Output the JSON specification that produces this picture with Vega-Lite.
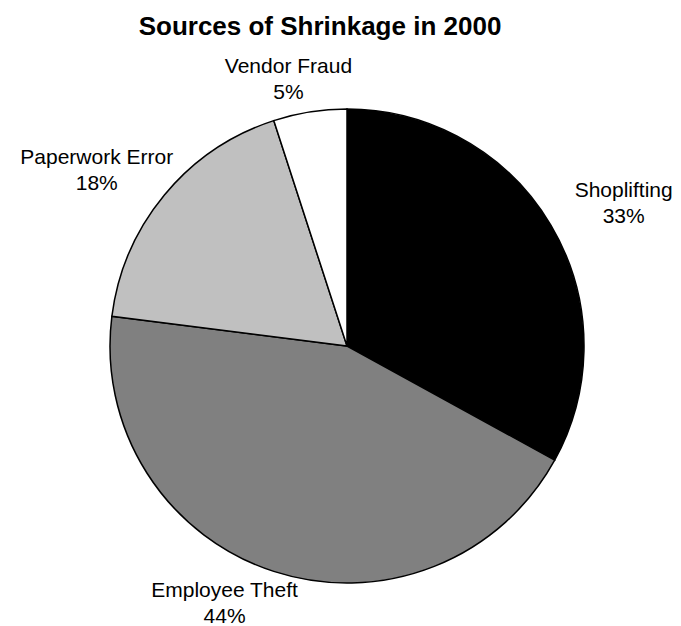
{
  "$schema": "https://vega.github.io/schema/vega-lite/v6.json",
  "width": 668,
  "height": 560,
  "autosize": {"type": "none"},
  "padding": {"left": 13, "top": 66, "right": 0, "bottom": 0},
  "background": "white",
  "view": {"stroke": null},
  "title": {
    "text": "Sources of Shrinkage in 2000",
    "font": "Liberation Sans",
    "fontSize": 26,
    "fontWeight": "bold",
    "color": "#000000",
    "anchor": "middle",
    "baseline": "alphabetic",
    "dx": -27,
    "offset": -30
  },
  "data": {
    "values": [
      {"source": "Shoplifting", "share": 33},
      {"source": "Employee Theft", "share": 44},
      {"source": "Paperwork Error", "share": 18},
      {"source": "Vendor Fraud", "share": 5}
    ]
  },
  "transform": [
    {"window": [{"op": "row_number", "as": "rank"}]},
    {"calculate": "datum.source + '\\n' + datum.share + '%'", "as": "label"}
  ],
  "encoding": {
    "theta": {"field": "share", "type": "quantitative", "stack": true},
    "order": {"field": "rank", "type": "quantitative"}
  },
  "layer": [
    {
      "mark": {"type": "arc", "outerRadius": 237, "stroke": "#000000", "strokeWidth": 1.5},
      "encoding": {
        "color": {
          "field": "source",
          "type": "nominal",
          "scale": {
            "domain": ["Shoplifting", "Employee Theft", "Paperwork Error", "Vendor Fraud"],
            "range": ["#000000", "#808080", "#c0c0c0", "#ffffff"]
          },
          "legend": null
        }
      }
    },
    {
      "mark": {"type": "text", "radius": 311, "dx": 9, "dy": 3, "font": "Liberation Sans", "fontSize": 21, "lineHeight": 26, "lineBreak": "\n", "color": "#000000", "align": "center", "baseline": "middle"},
      "encoding": {"text": {"condition": {"test": "datum.source === 'Shoplifting'", "field": "label", "type": "nominal"}, "value": ""}}
    },
    {
      "mark": {"type": "text", "radius": 283, "dx": -35, "dy": -24, "font": "Liberation Sans", "fontSize": 21, "lineHeight": 26, "lineBreak": "\n", "color": "#000000", "align": "center", "baseline": "middle"},
      "encoding": {"text": {"condition": {"test": "datum.source === 'Employee Theft'", "field": "label", "type": "nominal"}, "value": ""}}
    },
    {
      "mark": {"type": "text", "radius": 304, "dx": -16, "dy": 6, "font": "Liberation Sans", "fontSize": 21, "lineHeight": 26, "lineBreak": "\n", "color": "#000000", "align": "center", "baseline": "middle"},
      "encoding": {"text": {"condition": {"test": "datum.source === 'Paperwork Error'", "field": "label", "type": "nominal"}, "value": ""}}
    },
    {
      "mark": {"type": "text", "radius": 272, "dx": -16, "dy": -10, "font": "Liberation Sans", "fontSize": 21, "lineHeight": 26, "lineBreak": "\n", "color": "#000000", "align": "center", "baseline": "middle"},
      "encoding": {"text": {"condition": {"test": "datum.source === 'Vendor Fraud'", "field": "label", "type": "nominal"}, "value": ""}}
    }
  ]
}
